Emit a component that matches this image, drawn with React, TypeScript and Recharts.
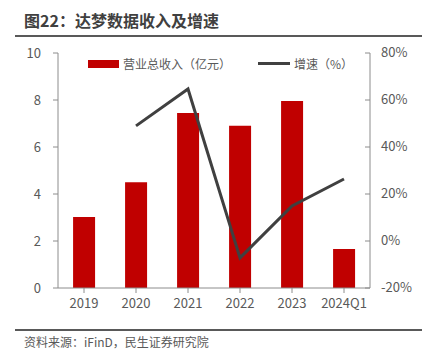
import React from "react";
import {
  ComposedChart,
  Bar,
  Line,
  XAxis,
  YAxis,
  Legend,
} from "recharts";

const years = ["2019", "2020", "2021", "2022", "2023", "2024Q1"];
const revenue = [3.02, 4.5, 7.45, 6.9, 7.96, 1.66];
const growth: (number | null)[] = [null, 49.0, 64.7, -7.2, 14.9, 26.4];

const leftTicks = [0, 2, 4, 6, 8, 10];
const rightTicks = [-20, 0, 20, 40, 60, 80];

const FONT = '"Noto Sans CJK SC", "Noto Sans", sans-serif';
const TEXT = "#595959";
const AXIS = "#8c8c8c";
const RED = "#c00000";
const GREY = "#404040";

const data = years.map((y, i) => ({
  year: y,
  revenue: revenue[i],
  growth: growth[i],
}));

function LegendBox() {
  return (
    <div
      style={{
        display: "flex",
        alignItems: "center",
        height: 17,
        fontFamily: FONT,
        fontSize: 12,
        color: TEXT,
      }}
    >
      <div style={{ width: 31, height: 8, background: RED, marginRight: 4 }} />
      <span>营业总收入（亿元）</span>
      <div
        style={{
          width: 32,
          height: 3,
          background: GREY,
          marginLeft: 27,
          marginRight: 4,
        }}
      />
      <span>增速（%）</span>
    </div>
  );
}

function RightTick(props: any) {
  const { x, y, payload } = props;
  return (
    <g>
      <line x1={x - 5} y1={y} x2={x} y2={y} stroke={AXIS} strokeWidth={1} />
      <text
        x={x + 11}
        y={y}
        dy={4}
        textAnchor="start"
        fill={TEXT}
        fontSize={13}
        fontFamily={FONT}
      >
        {payload.value}%
      </text>
    </g>
  );
}

export default function App() {
  return (
    <div
      style={{
        position: "relative",
        width: 433,
        height: 356,
        background: "#fff",
        fontFamily: FONT,
      }}
    >
      <style>{`body{margin:0}`}</style>
      <div
        style={{
          position: "absolute",
          left: 24,
          top: 9,
          fontSize: 16,
          fontWeight: 700,
          color: "#404040",
          lineHeight: "22px",
        }}
      >
        图22：达梦数据收入及增速
      </div>
      <div
        style={{
          position: "absolute",
          left: 15,
          top: 35,
          width: 407,
          height: 1.5,
          background: "#595959",
        }}
      />
      <div style={{ position: "absolute", left: 0, top: 0 }}>
        <ComposedChart
          width={433}
          height={326}
          data={data}
          margin={{ top: 36, right: 0, bottom: 0, left: 0 }}
          barCategoryGap="29%"
        >
          <XAxis
            dataKey="year"
            height={38}
            stroke={AXIS}
            tickSize={5}
            tickMargin={6}
            tick={{ fill: TEXT, fontSize: 13, fontFamily: FONT }}
            interval={0}
          />
          <YAxis
            yAxisId="left"
            width={58}
            domain={[0, 10]}
            ticks={leftTicks}
            stroke={AXIS}
            tickSize={5}
            tickMargin={12}
            tick={{ fill: TEXT, fontSize: 13, fontFamily: FONT }}
          />
          <YAxis
            yAxisId="right"
            orientation="right"
            width={63}
            domain={[-20, 80]}
            ticks={rightTicks}
            stroke={AXIS}
            tickSize={0}
            tickMargin={0}
            tickLine={false}
            tick={<RightTick />}
          />
          <Legend
            verticalAlign="top"
            height={17}
            wrapperStyle={{ position: "absolute", top: 55, left: 88, width: "auto" }}
            content={() => <LegendBox />}
          />
          <Bar
            yAxisId="left"
            dataKey="revenue"
            fill={RED}
            isAnimationActive={false}
          />
          <Line
            yAxisId="right"
            dataKey="growth"
            stroke={GREY}
            strokeWidth={3}
            dot={false}
            activeDot={false}
            connectNulls={false}
            isAnimationActive={false}
          />
        </ComposedChart>
      </div>
      <div
        style={{
          position: "absolute",
          left: 15,
          top: 329,
          width: 407,
          height: 1.5,
          background: "#595959",
        }}
      />
      <div
        style={{
          position: "absolute",
          left: 24,
          top: 333,
          fontSize: 12,
          color: TEXT,
          lineHeight: "18px",
        }}
      >
        资料来源：iFinD，民生证券研究院
      </div>
    </div>
  );
}
